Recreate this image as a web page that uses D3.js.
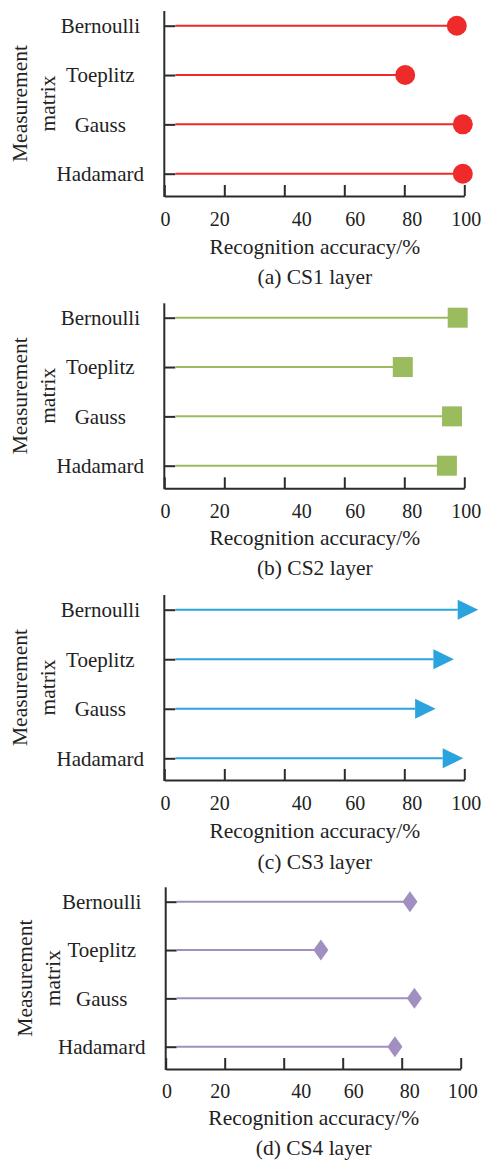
<!DOCTYPE html>
<html>
<head>
<meta charset="utf-8">
<script src="https://cdn.jsdelivr.net/npm/d3@7"></script>
<style>
  html, body { margin: 0; padding: 0; background: #fff; }
  svg { display: block; font-family: "Liberation Serif", "Times New Roman", serif; }
</style>
</head>
<body>
<svg id="chart" width="484" height="1160"></svg>
<script>
// ---- data ----
const categories = ["Bernoulli", "Toeplitz", "Gauss", "Hadamard"];
const cs1Values = [97.5, 80.3, 99.5, 99.5];
const cs2Values = [97.8, 79.5, 95.9, 94.2];
const cs3Values = [97.8, 89.7, 83.6, 92.8];
const cs4Values = [82.8, 52.6, 84.3, 77.7];
const xTicks = [0, 20, 40, 60, 80, 100];
const xTickLabels = ["0", "20", "40", "60", "80", "100"];
const panelCaptions = ["(a) CS1 layer", "(b) CS2 layer", "(c) CS3 layer", "(d) CS4 layer"];
const xAxisTitle = "Recognition accuracy/%";
const yAxisTitle = ["Measurement", "matrix"];

// ---- layout / style (not data) ----
const panels = [
  { values: cs1Values, color: "#ee2a2a", marker: "circle",  left: 164.3, right: 464.3, top: 11,    bottom: 196,   c1: 25.7,  c4: 173.7, tl: 23,   tt: 51,   cap: 81,   yt: 20 },
  { values: cs2Values, color: "#9bbb5f", marker: "square",  left: 164.3, right: 464.3, top: 303.3, bottom: 488.3, c1: 317.7, c4: 465.7, tl: 22.4, tt: 50,   cap: 80,   yt: 20 },
  { values: cs3Values, color: "#2ba3de", marker: "arrow",   left: 164.3, right: 464.3, top: 595,   bottom: 780,   c1: 609.7, c4: 758.3, tl: 22.7, tt: 50.7, cap: 81.7, yt: 20 },
  { values: cs4Values, color: "#a08fc0", marker: "diamond", left: 165.7, right: 460.7, top: 887.3, bottom: 1069,  c1: 901.7, c4: 1046.7, tl: 21.7, tt: 49.3, cap: 78.7, yt: 25 }
];
const labelNudge = [0.8, -5, 17, 10.5, 7.5, 1.5];
const axisColor = "#2b2b2b";
const textColor = "#222";

const svg = d3.select("#chart");

panels.forEach((p, pi) => {
  const g = svg.append("g");
  const x = d3.scaleLinear().domain([0, 100]).range([p.left, p.right]);
  const y = d3.scalePoint().domain(categories).range([p.c1, p.c4]);

  // x axis
  const xAxis = d3.axisBottom(x)
    .tickValues(xTicks)
    .tickFormat((d, i) => xTickLabels[i])
    .tickSizeInner(-11)
    .tickSizeOuter(0)
    .tickPadding(15.5);
  const xg = g.append("g").attr("transform", `translate(0,${p.bottom})`).call(xAxis);
  xg.select(".domain").attr("stroke", axisColor).attr("stroke-width", 2);
  xg.selectAll(".tick line").attr("stroke", axisColor).attr("stroke-width", 2);
  xg.selectAll(".tick text")
    .attr("font-size", 20)
    .attr("font-family", "Liberation Serif")
    .attr("fill", textColor)
    .attr("y", p.tl)
    .attr("dy", "0.35em")
    .attr("dx", (d, i) => labelNudge[i]);

  // y axis
  const yAxis = d3.axisLeft(y).tickSizeInner(-11).tickSizeOuter(0).tickPadding(0);
  const yg = g.append("g").attr("transform", `translate(${p.left},0)`).call(yAxis);
  yg.select(".domain").remove();
  yg.append("line")
    .attr("x1", 0).attr("x2", 0)
    .attr("y1", p.top).attr("y2", p.bottom + 1)
    .attr("stroke", axisColor).attr("stroke-width", 2);
  yg.selectAll(".tick line").attr("stroke", axisColor).attr("stroke-width", 2);
  yg.selectAll(".tick text")
    .attr("font-size", 21)
    .attr("font-family", "Liberation Serif")
    .attr("fill", textColor)
    .attr("text-anchor", "middle")
    .attr("x", -64)
    .attr("dy", "0.33em");

  // stems
  g.selectAll(".stem").data(p.values).join("line")
    .attr("class", "stem")
    .attr("x1", x(0) + 11)
    .attr("x2", d => x(d))
    .attr("y1", (d, i) => y(categories[i]))
    .attr("y2", (d, i) => y(categories[i]))
    .attr("stroke", p.color)
    .attr("stroke-width", 2);

  // markers
  const mk = g.selectAll(".mk").data(p.values).join("path").attr("class", "mk").attr("fill", p.color);
  if (p.marker === "circle") {
    mk.attr("d", (d, i) => {
      const cx = x(d), cy = y(categories[i]), r = 10;
      return `M${cx - r},${cy}a${r},${r} 0 1,0 ${2 * r},0a${r},${r} 0 1,0 ${-2 * r},0Z`;
    });
  } else if (p.marker === "square") {
    mk.attr("d", (d, i) => {
      const cx = x(d), cy = y(categories[i]), h = 10;
      return `M${cx - h},${cy - h}h${2 * h}v${2 * h}h${-2 * h}Z`;
    });
  } else if (p.marker === "arrow") {
    mk.attr("d", (d, i) => {
      const bx = x(d), cy = y(categories[i]);
      return `M${bx},${cy - 10}L${bx + 20.5},${cy}L${bx},${cy + 10}Z`;
    });
  } else if (p.marker === "diamond") {
    mk.attr("d", (d, i) => {
      const cx = x(d), cy = y(categories[i]);
      return `M${cx},${cy - 10.5}L${cx + 7.5},${cy}L${cx},${cy + 10.5}L${cx - 7.5},${cy}Z`;
    });
  }

  // y title
  const mid = (p.top + p.bottom) / 2;
  yAxisTitle.forEach((t, k) => {
    g.append("text")
      .attr("transform", `translate(${p.yt + k * 28},${mid}) rotate(-90)`)
      .attr("text-anchor", "middle")
      .attr("dominant-baseline", "central")
      .attr("font-size", 21.5)
      .attr("fill", textColor)
      .text(t);
  });

  // x title and caption
  const cx = (p.left + p.right) / 2 + 0.5;
  g.append("text")
    .attr("x", cx).attr("y", p.bottom + p.tt)
    .attr("text-anchor", "middle")
    .attr("dy", "0.33em")
    .attr("font-size", 21.5)
    .attr("fill", textColor)
    .text(xAxisTitle);
  g.append("text")
    .attr("x", cx).attr("y", p.bottom + p.cap)
    .attr("text-anchor", "middle")
    .attr("dy", "0.33em")
    .attr("font-size", 21.5)
    .attr("fill", textColor)
    .text(panelCaptions[pi]);
});
</script>
</body>
</html>
